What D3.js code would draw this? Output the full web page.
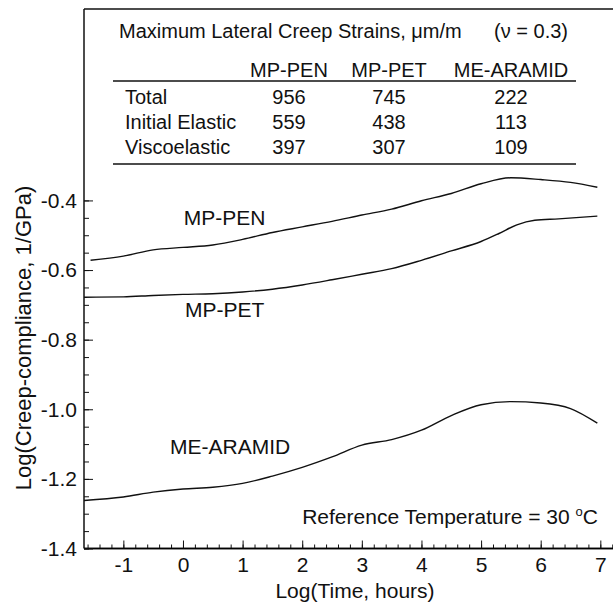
<!DOCTYPE html>
<html>
<head>
<meta charset="utf-8">
<script src="https://cdnjs.cloudflare.com/ajax/libs/d3/7.8.5/d3.min.js"></script>
<style>
  body { margin: 0; background: #fff; }
  svg { display: block; font-family: "Liberation Sans", Arial, sans-serif; }
  .curve { fill: none; stroke: #111; stroke-width: 1.4px; }
  .frame { stroke: #111; stroke-width: 1.5px; }
  text { fill: #111; }
</style>
</head>
<body>
<div id="chart"></div>
<script>
// data: log(time, h) and log(creep compliance, 1/GPa)
var penT = [-1.55, -1.0, -0.5, 0, 0.5, 1.0, 1.5, 2.0, 2.5, 3.0, 3.5, 4.0, 4.5, 5.0, 5.5, 6.0, 6.5, 6.95];
var penC = [-0.572, -0.560, -0.542, -0.535, -0.528, -0.512, -0.492, -0.476, -0.460, -0.442, -0.425, -0.401, -0.380, -0.352, -0.335, -0.340, -0.348, -0.362];

var petT = [-1.66, -1.0, -0.5, 0, 0.5, 1.0, 1.5, 2.0, 2.5, 3.0, 3.5, 4.0, 4.5, 5.0, 5.3, 5.6, 5.9, 6.3, 6.95];
var petC = [-0.678, -0.677, -0.673, -0.670, -0.668, -0.663, -0.655, -0.643, -0.628, -0.612, -0.596, -0.572, -0.545, -0.518, -0.495, -0.470, -0.457, -0.453, -0.445];

var araT = [-1.66, -1.0, -0.5, 0, 0.5, 1.0, 1.5, 2.0, 2.5, 3.0, 3.5, 4.0, 4.5, 5.0, 5.5, 6.0, 6.5, 6.95];
var araC = [-1.262, -1.252, -1.238, -1.229, -1.224, -1.213, -1.192, -1.167, -1.137, -1.103, -1.087, -1.060, -1.018, -0.987, -0.978, -0.982, -0.998, -1.040];

var xTicks = [-1, 0, 1, 2, 3, 4, 5, 6, 7];
var yTicks = [-1.4, -1.2, -1.0, -0.8, -0.6, -0.4];

// table of maximum lateral creep strains
var tableCols = ["MP-PEN", "MP-PET", "ME-ARAMID"];
var tableRows = ["Total", "Initial Elastic", "Viscoelastic"];
var totalVals = [956, 745, 222];
var elasticVals = [559, 438, 113];
var viscoVals = [397, 307, 109];

var width = 613, height = 603, fs = 21, tfs = 20;
var svg = d3.select("#chart").append("svg")
  .attr("width", width)
  .attr("height", height);

var x = d3.scaleLinear().domain([-1.66, 7.33]).range([84, 620]);
var y = d3.scaleLinear().domain([-1.4, 0.15]).range([548.5, 9]);

// frame: left and top lines
svg.append("line").attr("class", "frame")
  .attr("x1", 84).attr("x2", 84).attr("y1", 9).attr("y2", 548.5);
svg.append("line").attr("class", "frame")
  .attr("x1", 84).attr("x2", 620).attr("y1", 9).attr("y2", 9);

// x axis, ticks pointing in
var xMinor = d3.range(-16, 73, 2).map(function (d) { return d / 10; });
var xAxisG = svg.append("g").attr("transform", "translate(0,548.5)");
xAxisG.append("g").call(d3.axisBottom(x).tickValues(xMinor).tickSize(-4).tickFormat(""));
var xMajor = xAxisG.append("g").call(d3.axisBottom(x).tickValues(xTicks).tickSize(-8)
  .tickFormat(function (d) { return d < 0 ? "-" + Math.abs(d) : d; }));
xAxisG.selectAll(".domain").attr("stroke-width", 1.5).attr("d", "M84,0H620");
xMajor.selectAll("text")
  .attr("y", 9)
  .attr("font-size", fs)
  .attr("font-family", "Liberation Sans, Arial, sans-serif")
  .attr("fill", "#111");
xAxisG.selectAll("line").attr("stroke", "#111");

// y axis
var yMinor = d3.range(-28, -7, 1).map(function (d) { return d / 20; });
var yAxisG = svg.append("g").attr("transform", "translate(84,0)");
yAxisG.append("g").call(d3.axisLeft(y).tickValues(yMinor).tickSize(-5).tickFormat(""));
var yMajor = yAxisG.append("g").call(d3.axisLeft(y).tickValues(yTicks).tickSize(-9).tickFormat(function (d) {
  return d.toFixed(1);
}));
yAxisG.selectAll(".domain").remove();
yMajor.selectAll("text")
  .attr("x", -7)
  .attr("font-size", fs)
  .attr("font-family", "Liberation Sans, Arial, sans-serif")
  .attr("fill", "#111");
yAxisG.selectAll("line").attr("stroke", "#111");

// axis titles
svg.append("text")
  .attr("x", 355).attr("y", 598)
  .attr("text-anchor", "middle")
  .attr("font-size", fs)
  .text("Log(Time, hours)");
svg.append("text")
  .attr("transform", "translate(31,338) rotate(-90)")
  .attr("text-anchor", "middle")
  .attr("font-size", 22)
  .text("Log(Creep-compliance, 1/GPa)");

// curves
var line = d3.line()
  .curve(d3.curveMonotoneX)
  .x(function (d) { return x(d[0]); })
  .y(function (d) { return y(d[1]); });

[[penT, penC], [petT, petC], [araT, araC]].forEach(function (s) {
  svg.append("path").attr("class", "curve")
    .datum(d3.zip(s[0], s[1]))
    .attr("d", line);
});

// curve labels
svg.append("text").attr("x", x(0.7)).attr("y", y(-0.471))
  .attr("text-anchor", "middle").attr("font-size", fs).text("MP-PEN");
svg.append("text").attr("x", x(0.7)).attr("y", y(-0.736))
  .attr("text-anchor", "middle").attr("font-size", fs).text("MP-PET");
svg.append("text").attr("x", x(0.79)).attr("y", y(-1.129))
  .attr("text-anchor", "middle").attr("font-size", fs).text("ME-ARAMID");

var ref = svg.append("text").attr("x", x(6.96)).attr("y", y(-1.329))
  .attr("text-anchor", "end").attr("font-size", fs);
ref.append("tspan").text("Reference Temperature = 30 ");
ref.append("tspan").attr("font-size", 13).attr("dy", -8).text("o");
ref.append("tspan").attr("dy", 8).text("C");

// table
svg.append("text").attr("x", 119).attr("y", 38).attr("font-size", tfs)
  .text("Maximum Lateral Creep Strains, \u03bcm/m");
svg.append("text").attr("x", 568).attr("y", 38).attr("font-size", tfs)
  .attr("text-anchor", "end").text("(\u03bd = 0.3)");

var colX = [289, 389, 511];
tableCols.forEach(function (c, i) {
  svg.append("text").attr("x", colX[i]).attr("y", 77)
    .attr("text-anchor", "middle").attr("font-size", tfs).text(c);
});
svg.append("line").attr("class", "frame").attr("stroke-width", 1.2)
  .attr("x1", 113).attr("x2", 576).attr("y1", 81).attr("y2", 81);

var rowVals = [totalVals, elasticVals, viscoVals];
tableRows.forEach(function (r, j) {
  var yy = 104 + j * 25;
  svg.append("text").attr("x", 125).attr("y", yy).attr("font-size", tfs).text(r);
  rowVals[j].forEach(function (v, i) {
    svg.append("text").attr("x", colX[i]).attr("y", yy)
      .attr("text-anchor", "middle").attr("font-size", tfs).text(v);
  });
});
svg.append("line").attr("class", "frame").attr("stroke-width", 1.2)
  .attr("x1", 113).attr("x2", 576).attr("y1", 164).attr("y2", 164);
</script>
</body>
</html>
